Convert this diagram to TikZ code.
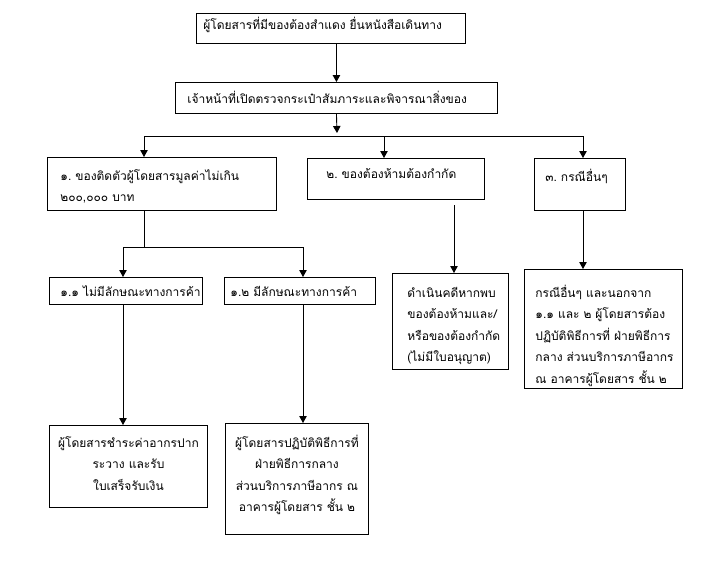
\documentclass[tikz,border=0pt]{standalone}
\usepackage{fontspec}
\newfontfamily\thaifont[Script=Thai]{Loma}
\usetikzlibrary{arrows.meta,positioning,calc}
\tikzset{
  box/.style={draw=black,line width=0.9pt,anchor=north west,inner ysep=0pt,
    font=\thaifont\fontsize{12}{21.5}\selectfont,align=left},
  mid/.style={box,align=center},
  link/.style={line width=0.9pt,draw=black},
  arrow/.style={-{Triangle[length=7pt,width=7.5pt]},line width=0.9pt,draw=black}
}

\begin{document}
\begin{tikzpicture}[x=1pt,y=-1pt]
  \useasboundingbox (0,0) rectangle (713,568);
      \node[box,inner xsep=7pt,text width=255pt,minimum width=269pt,text height=16pt,text depth=14pt] (top) at (196,13) {ผู้โดยสารที่มีของต้องสำแดง~ยื่นหนังสือเดินทาง};
      \node[box,inner xsep=12pt,text width=298pt,minimum width=322pt,text height=21pt,text depth=10pt] (check) at (175,82) {เจ้าหน้าที่เปิดตรวจกระเป๋าสัมภาระและพิจารณาสิ่งของ};
      \node[box,inner xsep=13pt,text width=203pt,minimum width=229pt,text height=23pt,text depth=30pt] (own) at (47,157) {๑.~ของติดตัวผู้โดยสารมูลค่าไม่เกิน\\๒๐๐,๐๐๐~บาท};
      \node[box,inner xsep=19pt,text width=139pt,minimum width=177pt,text height=20pt,text depth=21pt] (ban) at (307,158) {๒.~ของต้องห้ามต้องกำกัด};
      \node[box,inner xsep=11pt,text width=69pt,minimum width=91pt,text height=23pt,text depth=29pt] (other) at (534,158) {๓.~กรณีอื่นๆ};
      \node[box,inner xsep=11pt,text width=131pt,minimum width=153pt,text height=19pt,text depth=8pt] (nocom) at (49,277) {๑.๑~ไม่มีลักษณะทางการค้า};
      \node[box,inner xsep=6pt,text width=139pt,minimum width=151pt,text height=19pt,text depth=8pt] (com) at (224,277) {๑.๒~มีลักษณะทางการค้า};
      \node[box,inner xsep=15pt,text width=86pt,minimum width=116pt,text height=24pt,text depth=72pt] (sue) at (392,273) {ดำเนินคดีหากพบ\\ของต้องห้ามและ/\\หรือของต้องกำกัด\\(ไม่มีใบอนุญาต)};
      \node[box,inner xsep=11pt,text width=136pt,minimum width=158pt,text height=28pt,text depth=91pt] (rest) at (524,269) {กรณีอื่นๆ~และนอกจาก\\๑.๑~และ~๒~ผู้โดยสารต้อง\\ปฏิบัติพิธีการที่~ฝ่ายพิธีการ\\กลาง~ส่วนบริการภาษีอากร\\ณ~อาคารผู้โดยสาร~ชั้น~๒};
      \node[mid,inner xsep=4pt,text width=150pt,minimum width=158pt,text height=22pt,text depth=60pt] (pay) at (49,425) {ผู้โดยสารชำระค่าอากรปาก\\ระวาง~และรับ\\ใบเสร็จรับเงิน};
      \node[mid,inner xsep=4pt,text width=135pt,minimum width=143pt,text height=24pt,text depth=87pt] (desk) at (225,423) {ผู้โดยสารปฏิบัติพิธีการที่\\ฝ่ายพิธีการกลาง\\ส่วนบริการภาษีอากร~ณ\\อาคารผู้โดยสาร~ชั้น~๒};
      \coordinate (bar) at (337,136);
      \coordinate (k1) at (144,136);
      \coordinate (k2) at (384,136);
      \coordinate (k3) at (583,136);
      \coordinate (j1) at (123,247);
      \coordinate (j2) at (303,247);
      \coordinate (d0) at (454,205);
      \draw[arrow] (top.south -| check.south) -- (check.north);
      \draw[arrow] (check.south) -- ($(bar)+(0,-3)$);
      \draw[link] (k1) -- (k3);
      \draw[arrow] (k1) -- (k1 |- own.north);
      \draw[arrow] (k2) -- (k2 |- ban.north);
      \draw[arrow] (k3) -- (k3 |- other.north);
      \draw[link] (own.south -| k1) -- (k1 |- j1);
      \draw[link] (j1) -- (j2);
      \draw[arrow] (j1) -- (j1 |- nocom.north);
      \draw[arrow] (j2) -- (j2 |- com.north);
      \draw[arrow] (nocom.south -| j1) -- (j1 |- pay.north);
      \draw[arrow] (com.south -| j2) -- (j2 |- desk.north);
      \draw[arrow] (d0) -- (d0 |- sue.north);
      \draw[arrow] (other.south -| k3) -- (k3 |- rest.north);
    \end{tikzpicture}
\end{document}
